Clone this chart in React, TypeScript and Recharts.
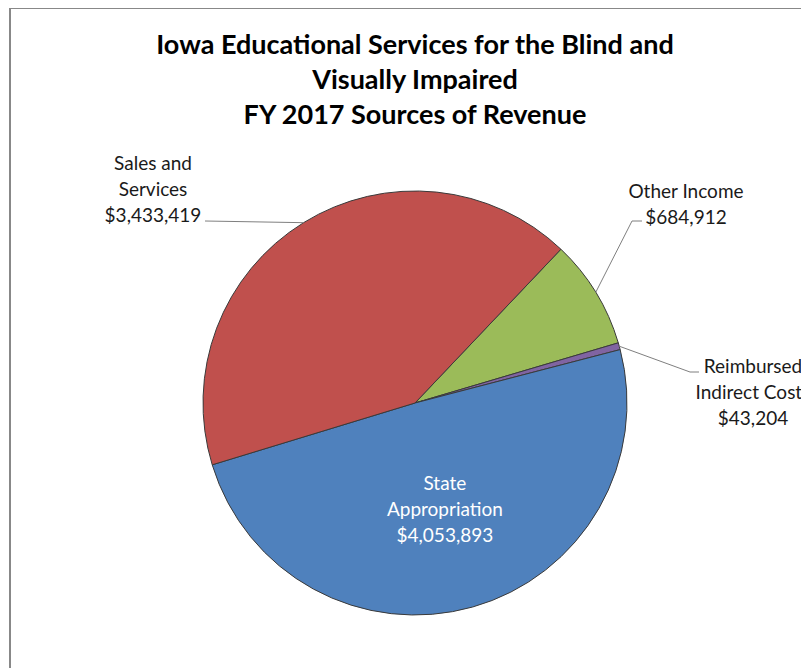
import { PieChart, Pie, Cell } from 'recharts';

const sources = ['Other Income', 'Reimbursed Indirect Costs', 'State Appropriation', 'Sales and Services'];
const revenue = [684912, 43204, 4053893, 3433419];
const sliceColors = ['#9BBB59', '#8064A2', '#4F81BD', '#C0504D'];
const labelLines = [
  ['Other Income', '$684,912'],
  ['Reimbursed', 'Indirect Costs', '$43,204'],
  ['State', 'Appropriation', '$4,053,893'],
  ['Sales and', 'Services', '$3,433,419'],
];
const titleLines = ['Iowa Educational Services for the Blind and', 'Visually Impaired', 'FY 2017 Sources of Revenue'];

// label placement, offsets from the pie centre (Excel-style callouts)
const labelLayout = [
  { elbow: [217, -182], end: [227, -182], text: [271, -213], inside: false },
  { elbow: [275, -31], end: [284, -31], text: [338, -38], inside: false },
  { radius: 110, inside: true },
  { elbow: [-210, -182], end: [-210, -182], text: [-262, -241], inside: false },
];

const RAD = Math.PI / 180;
const FONT = 'Lato, "Open Sans", sans-serif';
const LINE_H = 26;

const chartData = sources.map((name, i) => ({ name, value: revenue[i] }));

function renderLabel(props: any) {
  const { cx, cy, midAngle, outerRadius, index } = props;
  const layout: any = labelLayout[index];
  const lines = labelLines[index];
  if (layout.inside) {
    const x = cx + layout.radius * Math.cos(-midAngle * RAD);
    const y = cy + layout.radius * Math.sin(-midAngle * RAD);
    return (
      <g key={`lbl-${index}`}>
        {lines.map((t, k) => (
          <text
            key={k}
            x={x}
            y={y + (k - 1) * LINE_H}
            fill="#ffffff"
            fontSize={19}
            fontFamily={FONT}
            textAnchor="middle"
            dominantBaseline="central"
          >
            {t}
          </text>
        ))}
      </g>
    );
  }
  const sx = cx + outerRadius * Math.cos(-midAngle * RAD);
  const sy = cy + outerRadius * Math.sin(-midAngle * RAD);
  return (
    <g key={`lbl-${index}`}>
      <polyline
        points={`${sx},${sy} ${cx + layout.elbow[0]},${cy + layout.elbow[1]} ${cx + layout.end[0]},${cy + layout.end[1]}`}
        fill="none"
        stroke="#7f7f7f"
        strokeWidth={1}
      />
      {lines.map((t, k) => (
        <text
          key={k}
          x={cx + layout.text[0]}
          y={cy + layout.text[1] + k * LINE_H}
          fill="#1a1a1a"
          fontSize={19}
          fontFamily={FONT}
          textAnchor="middle"
          dominantBaseline="central"
        >
          {t}
        </text>
      ))}
    </g>
  );
}

export default function App() {
  return (
    <div style={{ position: 'relative', width: 801, height: 660, overflow: 'hidden', background: '#fff' }}>
      <div
        style={{
          position: 'absolute',
          left: 1,
          top: -1,
          width: 900,
          height: 800,
          borderLeft: '2px solid #888888',
          borderTop: '2px solid #888888',
        }}
      />
      <div
        style={{
          position: 'absolute',
          left: 0,
          top: 18,
          width: 814,
          textAlign: 'center',
          fontFamily: FONT,
          fontWeight: 700,
          fontSize: 27,
          lineHeight: '35px',
          color: '#000',
        }}
      >
        {titleLines.map((t) => (
          <div key={t}>{t}</div>
        ))}
      </div>
      <div style={{ position: 'absolute', left: 0, top: 0 }}>
        <PieChart width={801} height={660} margin={{ top: 0, right: 0, bottom: 0, left: 0 }}>
          <Pie
            data={chartData}
            dataKey="value"
            nameKey="name"
            cx={407}
            cy={395}
            outerRadius={212}
            startAngle={46.5}
            endAngle={-313.5}
            stroke="#3a3a3a"
            strokeWidth={1}
            label={renderLabel}
            labelLine={false}
            isAnimationActive={false}
          >
            {chartData.map((entry, i) => (
              <Cell key={`cell-${i}`} fill={sliceColors[i]} />
            ))}
          </Pie>
        </PieChart>
      </div>
    </div>
  );
}
